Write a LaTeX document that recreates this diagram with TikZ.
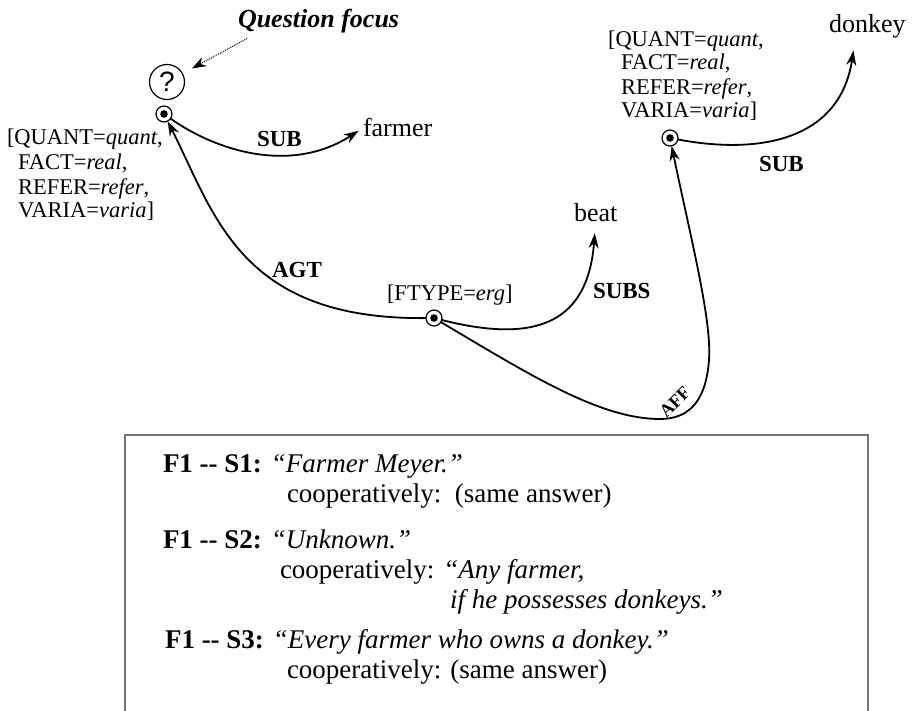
\documentclass[tikz,border=0pt]{standalone}
\usepackage{fontspec}
\setmainfont{Liberation Serif}
\newfontfamily\qsans{Liberation Sans}
\usetikzlibrary{arrows.meta}

\begin{document}
\begin{tikzpicture}[x=1pt,y=-1pt,
  every node/.style={inner sep=0pt, outer sep=0pt},
  word/.style={font=\fontsize{26}{30}\selectfont, anchor=base west},
  attr/.style={font=\fontsize{22.5}{24}\selectfont, anchor=base west},
  rel/.style={font=\bfseries\fontsize{23}{24}\selectfont, anchor=base west},
  dotnode/.style={circle, draw, line width=1.2pt, minimum size=16pt,
    path picture={\fill (path picture bounding box.center) circle (3.8pt);}},
  arc/.style={line width=1.8pt, -{Stealth[length=15pt,width=10pt]}},
  pointer/.style={densely dotted, line width=1pt, -{Stealth[length=14pt,width=10pt]}},
  ans/.style={font=\fontsize{27}{30}\selectfont, anchor=base west},
  boxline/.style={draw=black!55, line width=1.2pt}
]
\useasboundingbox (0,0) rectangle (917,711);

% question marker and its caption
\node[circle, draw, line width=1.2pt, minimum size=35pt,
      font=\qsans\fontsize{28}{28}\selectfont] (q) at (167,82) {?};
\node[font=\bfseries\itshape\fontsize{26}{30}\selectfont, anchor=base west]
      (focus) at (238,28) {Question focus};

% graph nodes
\node[dotnode] (n1) at (164,114) {};
\node[dotnode] (n2) at (434,318) {};
\node[dotnode] (n3) at (670,138) {};

\node[word] (farmer) at (363,137) {farmer};
\node[word] (beat)   at (574,222) {beat};
\node[word] (donkey) at (829,33)  {donkey};

% feature lists
\node[attr] (la1) at (7,145)  {[QUANT=\textit{quant},};
\node[attr] (la2) at (18,170) {FACT=\textit{real},};
\node[attr] (la3) at (18,195) {REFER=\textit{refer},};
\node[attr] (la4) at (18,218) {VARIA=\textit{varia}]};

\node[attr] (ra1) at (608,47)  {[QUANT=\textit{quant},};
\node[attr] (ra2) at (621,70)  {FACT=\textit{real},};
\node[attr] (ra3) at (621,95)  {REFER=\textit{refer},};
\node[attr] (ra4) at (621,118) {VARIA=\textit{varia}]};

\node[attr] (ft) at (387,300) {[FTYPE=\textit{erg}]};

% relation labels
\node[rel] (sub1) at (257,147) {SUB};
\node[rel] (agt)  at (272,277) {AGT};
\node[rel] (subs) at (593,298) {SUBS};
\node[rel] (sub2) at (759,172) {SUB};
\node[font=\bfseries\fontsize{18}{18}\selectfont, rotate=45, anchor=base]
      (aff) at (679,406) {AFF};

% connectors
\draw[pointer, shorten >=11pt] ([xshift=9pt,yshift=-5pt]focus.south west) -- (q);
\draw[arc] (n2) .. controls (240,320) and (215,215) .. (n1);
\draw[arc, shorten >=5pt] (n1) .. controls (215,150) and (290,175) .. (farmer.west);
\draw[arc, shorten >=11pt] (n2) .. controls (540,345) and (588,320) .. (beat.south);
\draw[arc] (n2) .. controls (530,375) and (600,419) .. (660,419)
                .. controls (690,419) and (706,400) .. (709,360)
                .. controls (712,320) and (690,235) .. (n3);
\draw[arc, shorten >=12pt] (n3) .. controls (760,155) and (840,140) .. ([xshift=-12pt]donkey.south);

% answer panel
\draw[boxline] (125,711) -- (125,435) -- (868,435) -- (868,711);

\node[ans] (s1)  at (163,472) {\textbf{F1 -{}- S1:} \textit{“Farmer Meyer.”}};
\node[ans] (c1)  at (287,502) {cooperatively:\ \ (same answer)};
\node[ans] (s2)  at (163,548) {\textbf{F1 -{}- S2:} \textit{“Unknown.”}};
\node[ans] (c2)  at (280,578) {cooperatively: \textit{“Any farmer,}};
\node[ans] (c2b) at (450,608) {\textit{if he possesses donkeys.”}};
\node[ans] (s3)  at (165,648) {\textbf{F1 -{}- S3:} \textit{“Every farmer who owns a donkey.”}};
\node[ans] (c3)  at (287,678) {cooperatively: (same answer)};
\end{tikzpicture}
\end{document}
